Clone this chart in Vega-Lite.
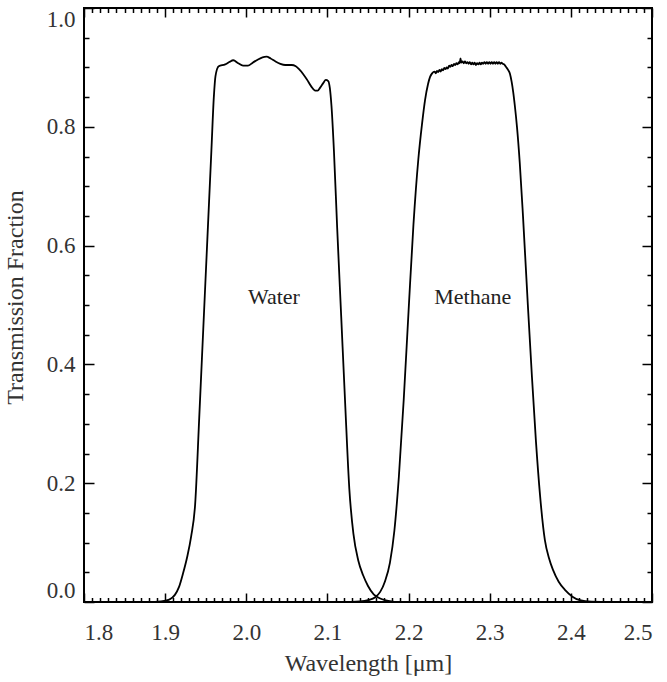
{
  "$schema": "https://vega.github.io/schema/vega-lite/v6.json",
  "width": 568,
  "height": 594,
  "autosize": {"type": "none"},
  "padding": {"left": 84, "top": 8, "right": 15, "bottom": 80},
  "background": "white",
  "config": {
    "view": {"stroke": "black", "strokeWidth": 2},
    "axis": {
      "grid": false,
      "domain": false,
      "labelFont": "Liberation Serif",
      "titleFont": "Liberation Serif",
      "labelFontSize": 23,
      "titleFontSize": 24,
      "labelColor": "#333",
      "titleColor": "#333",
      "titleFontWeight": "normal",
      "tickColor": "black",
      "tickWidth": 1.5
    }
  },
  "datasets": {
    "curves": [
      {"filter": "Water", "w": 1.80, "t": 0},
      {"filter": "Water", "w": 1.88, "t": 0},
      {"filter": "Water", "w": 1.895, "t": 0.001},
      {"filter": "Water", "w": 1.905, "t": 0.004},
      {"filter": "Water", "w": 1.912, "t": 0.012},
      {"filter": "Water", "w": 1.917, "t": 0.025},
      {"filter": "Water", "w": 1.922, "t": 0.048},
      {"filter": "Water", "w": 1.927, "t": 0.075},
      {"filter": "Water", "w": 1.932, "t": 0.11},
      {"filter": "Water", "w": 1.937, "t": 0.165},
      {"filter": "Water", "w": 1.942, "t": 0.31},
      {"filter": "Water", "w": 1.947, "t": 0.46},
      {"filter": "Water", "w": 1.952, "t": 0.61},
      {"filter": "Water", "w": 1.957, "t": 0.76},
      {"filter": "Water", "w": 1.960, "t": 0.85},
      {"filter": "Water", "w": 1.962, "t": 0.885},
      {"filter": "Water", "w": 1.966, "t": 0.902},
      {"filter": "Water", "w": 1.974, "t": 0.905},
      {"filter": "Water", "w": 1.979, "t": 0.909},
      {"filter": "Water", "w": 1.984, "t": 0.912},
      {"filter": "Water", "w": 1.990, "t": 0.907},
      {"filter": "Water", "w": 1.996, "t": 0.903},
      {"filter": "Water", "w": 2.002, "t": 0.903},
      {"filter": "Water", "w": 2.008, "t": 0.908},
      {"filter": "Water", "w": 2.014, "t": 0.913},
      {"filter": "Water", "w": 2.020, "t": 0.917},
      {"filter": "Water", "w": 2.025, "t": 0.918},
      {"filter": "Water", "w": 2.030, "t": 0.915},
      {"filter": "Water", "w": 2.036, "t": 0.910},
      {"filter": "Water", "w": 2.042, "t": 0.906},
      {"filter": "Water", "w": 2.048, "t": 0.904},
      {"filter": "Water", "w": 2.056, "t": 0.904},
      {"filter": "Water", "w": 2.061, "t": 0.902},
      {"filter": "Water", "w": 2.065, "t": 0.897},
      {"filter": "Water", "w": 2.070, "t": 0.889},
      {"filter": "Water", "w": 2.075, "t": 0.879},
      {"filter": "Water", "w": 2.080, "t": 0.868},
      {"filter": "Water", "w": 2.085, "t": 0.861},
      {"filter": "Water", "w": 2.088, "t": 0.861},
      {"filter": "Water", "w": 2.091, "t": 0.866},
      {"filter": "Water", "w": 2.095, "t": 0.874},
      {"filter": "Water", "w": 2.098, "t": 0.879},
      {"filter": "Water", "w": 2.101, "t": 0.877},
      {"filter": "Water", "w": 2.103, "t": 0.865},
      {"filter": "Water", "w": 2.105, "t": 0.835},
      {"filter": "Water", "w": 2.108, "t": 0.76},
      {"filter": "Water", "w": 2.112, "t": 0.63},
      {"filter": "Water", "w": 2.117, "t": 0.48},
      {"filter": "Water", "w": 2.122, "t": 0.33},
      {"filter": "Water", "w": 2.127, "t": 0.19},
      {"filter": "Water", "w": 2.132, "t": 0.115},
      {"filter": "Water", "w": 2.138, "t": 0.07},
      {"filter": "Water", "w": 2.144, "t": 0.045},
      {"filter": "Water", "w": 2.150, "t": 0.027},
      {"filter": "Water", "w": 2.157, "t": 0.013},
      {"filter": "Water", "w": 2.165, "t": 0.006},
      {"filter": "Water", "w": 2.175, "t": 0.002},
      {"filter": "Water", "w": 2.19, "t": 0.0},
      {"filter": "Water", "w": 2.50, "t": 0.0},
      {"filter": "Methane", "w": 1.80, "t": 0},
      {"filter": "Methane", "w": 2.12, "t": 0},
      {"filter": "Methane", "w": 2.14, "t": 0.001},
      {"filter": "Methane", "w": 2.150, "t": 0.003},
      {"filter": "Methane", "w": 2.159, "t": 0.008},
      {"filter": "Methane", "w": 2.165, "t": 0.017},
      {"filter": "Methane", "w": 2.171, "t": 0.035},
      {"filter": "Methane", "w": 2.177, "t": 0.066},
      {"filter": "Methane", "w": 2.1825, "t": 0.12},
      {"filter": "Methane", "w": 2.188, "t": 0.21},
      {"filter": "Methane", "w": 2.194, "t": 0.34},
      {"filter": "Methane", "w": 2.200, "t": 0.49},
      {"filter": "Methane", "w": 2.206, "t": 0.635},
      {"filter": "Methane", "w": 2.212, "t": 0.745},
      {"filter": "Methane", "w": 2.2166, "t": 0.805},
      {"filter": "Methane", "w": 2.2203, "t": 0.845},
      {"filter": "Methane", "w": 2.224, "t": 0.872},
      {"filter": "Methane", "w": 2.2265, "t": 0.884},
      {"filter": "Methane", "w": 2.229, "t": 0.890},
      {"filter": "Methane", "w": 2.232, "t": 0.893},
      {"filter": "Methane", "w": 2.2335, "t": 0.890},
      {"filter": "Methane", "w": 2.235, "t": 0.894},
      {"filter": "Methane", "w": 2.2365, "t": 0.892},
      {"filter": "Methane", "w": 2.238, "t": 0.896},
      {"filter": "Methane", "w": 2.2395, "t": 0.893},
      {"filter": "Methane", "w": 2.241, "t": 0.897},
      {"filter": "Methane", "w": 2.2425, "t": 0.895},
      {"filter": "Methane", "w": 2.244, "t": 0.899},
      {"filter": "Methane", "w": 2.2455, "t": 0.897},
      {"filter": "Methane", "w": 2.247, "t": 0.900},
      {"filter": "Methane", "w": 2.2485, "t": 0.898},
      {"filter": "Methane", "w": 2.250, "t": 0.903},
      {"filter": "Methane", "w": 2.2515, "t": 0.901},
      {"filter": "Methane", "w": 2.253, "t": 0.904},
      {"filter": "Methane", "w": 2.2545, "t": 0.902},
      {"filter": "Methane", "w": 2.256, "t": 0.906},
      {"filter": "Methane", "w": 2.2575, "t": 0.904},
      {"filter": "Methane", "w": 2.259, "t": 0.907},
      {"filter": "Methane", "w": 2.2605, "t": 0.905},
      {"filter": "Methane", "w": 2.262, "t": 0.909},
      {"filter": "Methane", "w": 2.263, "t": 0.907},
      {"filter": "Methane", "w": 2.264, "t": 0.915},
      {"filter": "Methane", "w": 2.265, "t": 0.908},
      {"filter": "Methane", "w": 2.2665, "t": 0.910},
      {"filter": "Methane", "w": 2.268, "t": 0.907},
      {"filter": "Methane", "w": 2.2695, "t": 0.910},
      {"filter": "Methane", "w": 2.271, "t": 0.907},
      {"filter": "Methane", "w": 2.2725, "t": 0.909},
      {"filter": "Methane", "w": 2.274, "t": 0.906},
      {"filter": "Methane", "w": 2.2755, "t": 0.909},
      {"filter": "Methane", "w": 2.277, "t": 0.905},
      {"filter": "Methane", "w": 2.2785, "t": 0.908},
      {"filter": "Methane", "w": 2.280, "t": 0.905},
      {"filter": "Methane", "w": 2.2815, "t": 0.908},
      {"filter": "Methane", "w": 2.283, "t": 0.904},
      {"filter": "Methane", "w": 2.2845, "t": 0.907},
      {"filter": "Methane", "w": 2.286, "t": 0.905},
      {"filter": "Methane", "w": 2.2875, "t": 0.908},
      {"filter": "Methane", "w": 2.289, "t": 0.905},
      {"filter": "Methane", "w": 2.2905, "t": 0.908},
      {"filter": "Methane", "w": 2.292, "t": 0.906},
      {"filter": "Methane", "w": 2.2935, "t": 0.909},
      {"filter": "Methane", "w": 2.295, "t": 0.906},
      {"filter": "Methane", "w": 2.2965, "t": 0.909},
      {"filter": "Methane", "w": 2.298, "t": 0.906},
      {"filter": "Methane", "w": 2.2995, "t": 0.909},
      {"filter": "Methane", "w": 2.301, "t": 0.906},
      {"filter": "Methane", "w": 2.3025, "t": 0.909},
      {"filter": "Methane", "w": 2.304, "t": 0.906},
      {"filter": "Methane", "w": 2.3055, "t": 0.909},
      {"filter": "Methane", "w": 2.307, "t": 0.906},
      {"filter": "Methane", "w": 2.3085, "t": 0.909},
      {"filter": "Methane", "w": 2.310, "t": 0.906},
      {"filter": "Methane", "w": 2.3115, "t": 0.909},
      {"filter": "Methane", "w": 2.313, "t": 0.906},
      {"filter": "Methane", "w": 2.3145, "t": 0.908},
      {"filter": "Methane", "w": 2.316, "t": 0.906},
      {"filter": "Methane", "w": 2.318, "t": 0.905},
      {"filter": "Methane", "w": 2.320, "t": 0.901},
      {"filter": "Methane", "w": 2.323, "t": 0.895},
      {"filter": "Methane", "w": 2.325, "t": 0.889},
      {"filter": "Methane", "w": 2.327, "t": 0.876},
      {"filter": "Methane", "w": 2.329, "t": 0.858},
      {"filter": "Methane", "w": 2.331, "t": 0.835},
      {"filter": "Methane", "w": 2.3336, "t": 0.80},
      {"filter": "Methane", "w": 2.337, "t": 0.74},
      {"filter": "Methane", "w": 2.341, "t": 0.65},
      {"filter": "Methane", "w": 2.347, "t": 0.50},
      {"filter": "Methane", "w": 2.352, "t": 0.38},
      {"filter": "Methane", "w": 2.357, "t": 0.27},
      {"filter": "Methane", "w": 2.362, "t": 0.18},
      {"filter": "Methane", "w": 2.368, "t": 0.104},
      {"filter": "Methane", "w": 2.373, "t": 0.074},
      {"filter": "Methane", "w": 2.378, "t": 0.054},
      {"filter": "Methane", "w": 2.385, "t": 0.034},
      {"filter": "Methane", "w": 2.393, "t": 0.020},
      {"filter": "Methane", "w": 2.402, "t": 0.009},
      {"filter": "Methane", "w": 2.411, "t": 0.003},
      {"filter": "Methane", "w": 2.425, "t": 0.0005},
      {"filter": "Methane", "w": 2.45, "t": 0},
      {"filter": "Methane", "w": 2.50, "t": 0}
    ],
    "labels": [
      {"w": 2.034, "t": 0.513, "label": "Water"},
      {"w": 2.279, "t": 0.513, "label": "Methane"}
    ],
    "anchor": [{"w": 1.8, "t": 0}]
  },
  "layer": [
    {
      "data": {"name": "curves"},
      "mark": {"type": "line", "color": "black", "strokeWidth": 1.8, "clip": true, "interpolate": "monotone"},
      "encoding": {
        "x": {
          "field": "w", "type": "quantitative",
          "scale": {"domain": [1.8, 2.5], "nice": false, "zero": false},
          "axis": {
            "orient": "bottom",
            "values": [1.8, 1.9, 2.0, 2.1, 2.2, 2.3, 2.4, 2.5],
            "format": ".1f",
            "tickSize": -9,
            "labelPadding": 28,
            "title": "Wavelength [μm]",
            "titleY": 61,
            "titleBaseline": "middle"
          }
        },
        "y": {
          "field": "t", "type": "quantitative",
          "scale": {"domain": [0, 1], "nice": false, "zero": false},
          "axis": {
            "orient": "left",
            "values": [0, 0.2, 0.4, 0.6, 0.8, 1.0],
            "format": ".1f",
            "tickSize": -10,
            "labelPadding": 19,
            "labelFlush": true,
            "title": "Transmission Fraction",
            "titleX": -69,
            "titleY": 289,
            "titleAngle": -90,
            "titleBaseline": "middle"
          }
        },
        "detail": {"field": "filter"}
      }
    },
    {
      "data": {"name": "anchor"},
      "mark": {"type": "point", "opacity": 0},
      "encoding": {
        "x": {
          "field": "w", "type": "quantitative",
          "scale": {"domain": [1.8, 2.5], "nice": false, "zero": false},
          "axis": {
            "orient": "bottom",
            "values": [1.81,1.82,1.83,1.84,1.85,1.86,1.87,1.88,1.89,1.91,1.92,1.93,1.94,1.95,1.96,1.97,1.98,1.99,2.01,2.02,2.03,2.04,2.05,2.06,2.07,2.08,2.09,2.11,2.12,2.13,2.14,2.15,2.16,2.17,2.18,2.19,2.21,2.22,2.23,2.24,2.25,2.26,2.27,2.28,2.29,2.31,2.32,2.33,2.34,2.35,2.36,2.37,2.38,2.39,2.41,2.42,2.43,2.44,2.45,2.46,2.47,2.48,2.49],
            "labels": false,
            "tickSize": -4.5,
            "title": null
          }
        },
        "y": {
          "field": "t", "type": "quantitative",
          "scale": {"domain": [0, 1], "nice": false, "zero": false},
          "axis": {
            "orient": "left",
            "values": [0.05, 0.1, 0.15, 0.25, 0.3, 0.35, 0.45, 0.5, 0.55, 0.65, 0.7, 0.75, 0.85, 0.9, 0.95],
            "labels": false,
            "tickSize": -5,
            "title": null
          }
        }
      }
    },
    {
      "data": {"name": "anchor"},
      "mark": {"type": "point", "opacity": 0},
      "encoding": {
        "x": {
          "field": "w", "type": "quantitative",
          "scale": {"domain": [1.8, 2.5], "nice": false, "zero": false},
          "axis": {
            "orient": "top",
            "values": [1.8, 1.9, 2.0, 2.1, 2.2, 2.3, 2.4, 2.5],
            "labels": false,
            "tickSize": -9,
            "title": null
          }
        },
        "y": {
          "field": "t", "type": "quantitative",
          "scale": {"domain": [0, 1], "nice": false, "zero": false},
          "axis": {
            "orient": "right",
            "values": [0, 0.2, 0.4, 0.6, 0.8, 1.0],
            "labels": false,
            "tickSize": -10,
            "title": null
          }
        }
      }
    },
    {
      "data": {"name": "anchor"},
      "mark": {"type": "point", "opacity": 0},
      "encoding": {
        "x": {
          "field": "w", "type": "quantitative",
          "scale": {"domain": [1.8, 2.5], "nice": false, "zero": false},
          "axis": {
            "orient": "top",
            "values": [1.81,1.82,1.83,1.84,1.85,1.86,1.87,1.88,1.89,1.91,1.92,1.93,1.94,1.95,1.96,1.97,1.98,1.99,2.01,2.02,2.03,2.04,2.05,2.06,2.07,2.08,2.09,2.11,2.12,2.13,2.14,2.15,2.16,2.17,2.18,2.19,2.21,2.22,2.23,2.24,2.25,2.26,2.27,2.28,2.29,2.31,2.32,2.33,2.34,2.35,2.36,2.37,2.38,2.39,2.41,2.42,2.43,2.44,2.45,2.46,2.47,2.48,2.49],
            "labels": false,
            "tickSize": -4.5,
            "title": null
          }
        },
        "y": {
          "field": "t", "type": "quantitative",
          "scale": {"domain": [0, 1], "nice": false, "zero": false},
          "axis": {
            "orient": "right",
            "values": [0.05, 0.1, 0.15, 0.25, 0.3, 0.35, 0.45, 0.5, 0.55, 0.65, 0.7, 0.75, 0.85, 0.9, 0.95],
            "labels": false,
            "tickSize": -5,
            "title": null
          }
        }
      }
    },
    {
      "data": {"name": "labels"},
      "mark": {"type": "text", "font": "Liberation Serif", "fontSize": 22, "color": "#222", "align": "center", "baseline": "middle"},
      "encoding": {
        "x": {"field": "w", "type": "quantitative", "scale": {"domain": [1.8, 2.5], "nice": false, "zero": false}, "axis": null},
        "y": {"field": "t", "type": "quantitative", "scale": {"domain": [0, 1], "nice": false, "zero": false}, "axis": null},
        "text": {"field": "label"}
      }
    }
  ],
  "resolve": {"axis": {"x": "independent", "y": "independent"}}
}
